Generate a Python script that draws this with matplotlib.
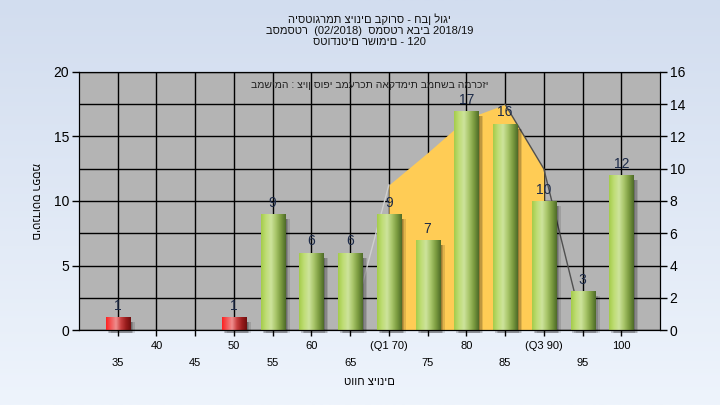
import numpy as np
import matplotlib
matplotlib.use('Agg')
import matplotlib.pyplot as plt
from matplotlib.colors import LinearSegmentedColormap

plt.rcParams['font.family'] = ['Liberation Sans', 'DejaVu Sans']

# data
grades = [35, 40, 45, 50, 55, 60, 65, 70, 75, 80, 85, 90, 95, 100]
counts = [1, 0, 0, 1, 9, 6, 6, 9, 7, 17, 16, 10, 3, 12]
tick_labels = ['35', '40', '45', '50', '55', '60', '65', '(Q1 70)', '75', '80',
               '85', '(Q3 90)', '95', '100']
fail_grades = [35, 50]

# distribution curve, right-axis units
curve_x = [65, 70, 75, 80, 85, 90, 95]
curve_y = [0, 9.0, 11.0, 13.1, 14.0, 10.0, 0.3]
iqr_range = (70, 90)

title_lines = ['היסטוגרמת ציונים בקורס - חבן לוגי',
               'בסמסטר  (02/2018)  סמסטר אביב 2018/19',
               'סטודנטים רשומים - 120']
note_text = 'במשימה : ציון סופי במערכת האקדמית במחשב המרכזי'
ylabel = 'מספר סטודנטים'
xlabel = 'טווח ציונים'

left_max, right_max = 20, 16

fig = plt.figure(figsize=(7.2, 4.05), dpi=100)

# background gradient
bg = fig.add_axes([0, 0, 1, 1], zorder=-10)
bg_cmap = LinearSegmentedColormap.from_list('bg', ['#d2ddef', '#eef4fc'])
bg.imshow(np.linspace(0, 1, 256).reshape(-1, 1), cmap=bg_cmap, aspect='auto',
          extent=[0, 1, 0, 1], origin='upper')
bg.axis('off')

ax = fig.add_axes([79 / 720, 1 - 330 / 405, 581 / 720, 258 / 405])
ax.set_facecolor('#b4b4b4')
ax.set_axisbelow(True)

# grid: vertical at categories, horizontal from right axis steps
for g in grades:
    ax.axvline(g, color='black', lw=1, zorder=0.5)
for v in np.arange(0, right_max + 0.1, 2):
    ax.axhline(v * left_max / right_max, color='black', lw=1, zorder=0.5)

# orange area between Q1 and Q3
cx = np.array(curve_x, dtype=float)
cy = np.array(curve_y) * left_max / right_max
mask = (cx >= iqr_range[0]) & (cx <= iqr_range[1])
ax.fill_between(cx[mask], 0, cy[mask], color='#ffcc55', lw=0, zorder=1)
ax.plot(cx[:2], cy[:2], color='#cfcfcf', lw=1, zorder=1.1)
ax.plot(cx[4:], cy[4:], color='#505050', lw=1, zorder=1.1)

width = 3.1
counts_arr = np.array(counts, dtype=float)
# soft shadows
for off, a in [(0.25, 0.18), (0.45, 0.15), (0.65, 0.12)]:
    ax.bar(np.array(grades) + off, np.maximum(counts_arr - 0.15, 0),
           width=width, bottom=-0.25, color='black', alpha=a,
           lw=0, zorder=1.5, clip_on=False)

green = LinearSegmentedColormap.from_list(
    'g', ['#a4cc4a', '#bfdd75', '#cde39c', '#a9c66a', '#7c9c40', '#4d6a28'])
red = LinearSegmentedColormap.from_list(
    'r', ['#ff2020', '#f25a5a', '#ef8e8e', '#c84040', '#9a1c1c', '#6e0e0e'])
grad = np.linspace(0, 1, 128).reshape(1, -1)

bars = ax.bar(grades, counts, width=width, color='#9cc04f', lw=0, zorder=2)
for g, c, b in zip(grades, counts, bars):
    if c == 0:
        continue
    cmap = red if g in fail_grades else green
    im = ax.imshow(grad, cmap=cmap, aspect='auto', zorder=2.1,
                   extent=[b.get_x(), b.get_x() + b.get_width(), 0, c])
    im.set_clip_path(b)
    ax.annotate(str(c), (g, c), xytext=(0, 3), textcoords='offset points',
                ha='center', va='bottom', fontsize=10, color='#1c2a48', zorder=3)

ax.set_xlim(30, 105)
ax.set_ylim(0, left_max)
ax.set_xticks(grades)
ax.set_xticklabels(tick_labels, fontsize=8)
for i, t in enumerate(ax.xaxis.get_major_ticks()):
    t.set_pad(16 if i % 2 == 0 else 4)
ax.tick_params(axis='x', length=4, width=1, color='black')
ax.set_yticks([0, 5, 10, 15, 20])
ax.tick_params(axis='y', labelsize=10, length=5, width=1, pad=2)
for s in ax.spines.values():
    s.set_color('black')

ax2 = ax.twinx()
ax2.set_ylim(0, right_max)
ax2.set_yticks(np.arange(0, right_max + 1, 2))
ax2.tick_params(axis='y', labelsize=10, length=5, width=1, pad=2)
ax2.spines['right'].set_color('black')

ax.text(0.5, 0.95, note_text, transform=ax.transAxes, ha='center', va='center',
        fontsize=7.5, color='#202020', zorder=4)

fig.text(369.5 / 720, 1 - 30 / 405, '\n'.join(title_lines), ha='center', va='center',
         fontsize=8, color='#101010', linespacing=1.1)
ax.text(-0.076, 0.5, ylabel, transform=ax.transAxes, rotation=270,
        ha='center', va='center', fontsize=8)
ax.text(0.5, -(382 - 330) / 258, xlabel, transform=ax.transAxes,
        ha='center', va='center', fontsize=8)

fig.savefig('out.png', dpi=100)
